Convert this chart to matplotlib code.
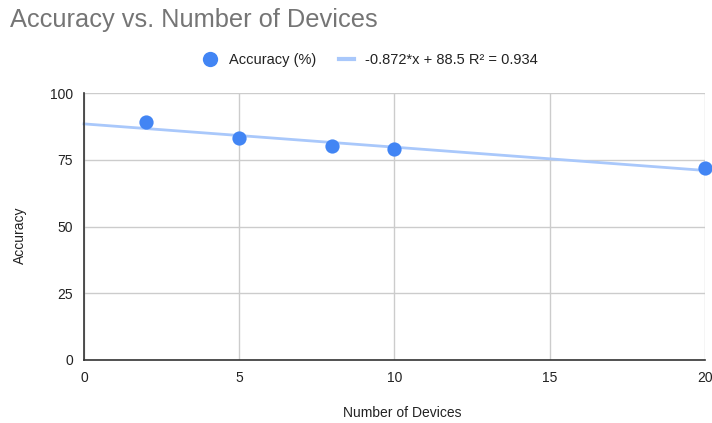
import matplotlib.pyplot as plt
import numpy as np
from matplotlib.lines import Line2D

plt.rcParams["font.family"] = ["Liberation Sans", "DejaVu Sans"]

devices  = [2, 5, 8, 10, 20]
accuracy = [89, 83, 80, 79, 72]
x_ticks  = [0, 5, 10, 15, 20]
y_ticks  = [0, 25, 50, 75, 100]
trend_label = "-0.872*x + 88.5 R\u00b2 = 0.934"

BLAU  = "#4285f4"
HELL  = "#a9c8fb"
GRID  = "#cccccc"
TEXT  = "#222222"
TITEL = "#757575"

fig = plt.figure(figsize=(7.12, 4.23), dpi=100, facecolor="white")
ax = fig.add_axes([0.118, 0.149, 0.872, 0.631])

slope, icpt = np.polyfit(devices, accuracy, 1)
xs = np.array([x_ticks[0], x_ticks[-1]])
ax.plot(xs, slope * xs + icpt, color=HELL, linewidth=2, zorder=2, clip_on=False)
ax.scatter(devices, accuracy, s=105, color=BLAU, zorder=3, clip_on=False, linewidths=0)

ax.set_xlim(0, 20)
ax.set_ylim(0, 100)
ax.set_xticks(x_ticks)
ax.set_yticks(y_ticks)
ax.grid(True, color=GRID, linewidth=1)
ax.set_axisbelow(True)
for s in ["top", "right"]:
    ax.spines[s].set_visible(False)
for s in ["left", "bottom"]:
    ax.spines[s].set_color("#333333")
    ax.spines[s].set_linewidth(1.2)
ax.tick_params(length=0, labelsize=10, colors=TEXT, pad=8)

# Achsentitel frei positioniert
fig.text(0.565, 0.024, "Number of Devices", fontsize=10, color=TEXT,
         ha="center", va="center")
fig.text(0.028, 0.445, "Accuracy", fontsize=10, color=TEXT,
         ha="center", va="center", rotation=90)

fig.text(0.014, 0.953, "Accuracy vs. Number of Devices", fontsize=18.3,
         color=TITEL, va="center", ha="left")

handles = [
    Line2D([], [], marker="o", linestyle="none", markersize=11,
           markerfacecolor=BLAU, markeredgewidth=0),
    Line2D([], [], color=HELL, linewidth=3),
]
fig.legend(handles, ["Accuracy (%)", trend_label], loc="center",
           bbox_to_anchor=(0.52, 0.858), ncol=2, frameon=False, fontsize=10.5,
           handlelength=1.0, handletextpad=0.8, columnspacing=1.6,
           labelcolor=TEXT)

fig.savefig("out.png", dpi=100, facecolor="white")
